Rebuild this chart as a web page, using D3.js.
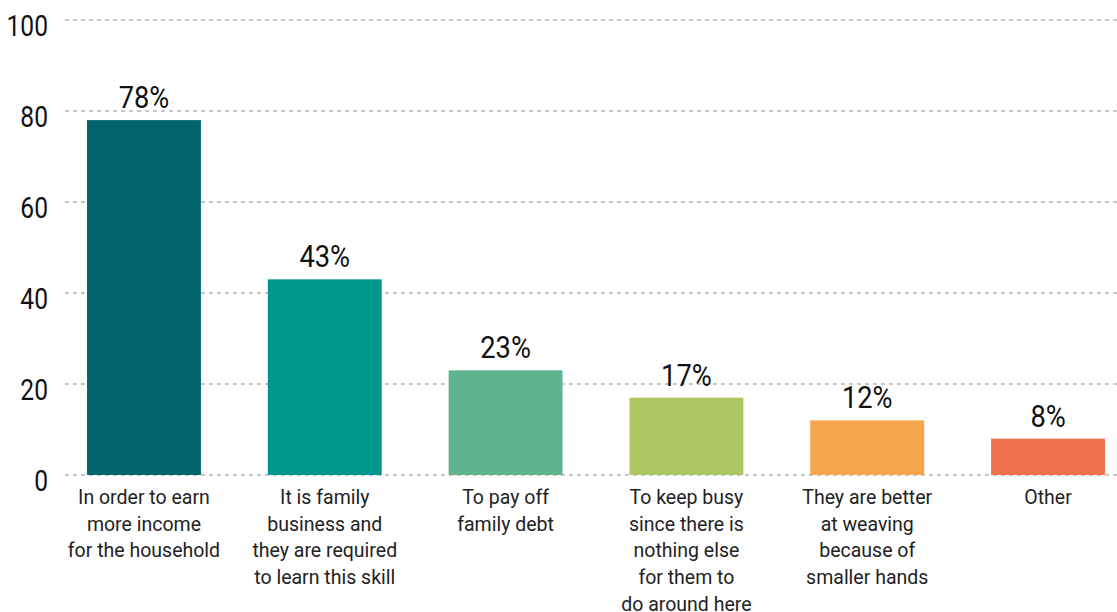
<!DOCTYPE html>
<html>
<head>
<meta charset="utf-8">
<script src="https://cdn.jsdelivr.net/npm/d3@7"></script>
<style>
  body { margin: 0; background: #fff; }
  .tick-label { font-family: Roboto, sans-serif; font-size: 30px; fill: #111; }
  .value-label { font-family: Roboto, sans-serif; font-size: 31px; fill: #111; }
  .cat-label { font-family: Roboto, sans-serif; font-size: 19.5px; fill: #222; }
</style>
</head>
<body>
<div id="chart"></div>
<script>
const categories = [
  ["In order to earn", "more income", "for the household"],
  ["It is family", "business and", "they are required", "to learn this skill"],
  ["To pay off", "family debt"],
  ["To keep busy", "since there is", "nothing else", "for them to", "do around here"],
  ["They are better", "at weaving", "because of", "smaller hands"],
  ["Other"]
];
const values = [78, 43, 23, 17, 12, 8];
const barColors = ["#02646e", "#009690", "#5fb48f", "#aec663", "#f6a54a", "#ee724e"];
const yTicks = [0, 20, 40, 60, 80, 100];

const width = 1117, height = 612;
const svg = d3.select("#chart").append("svg")
  .attr("width", width)
  .attr("height", height);

const x = d3.scaleBand()
  .domain(d3.range(values.length))
  .range([87, 1105])
  .paddingInner(0.37);

const y = d3.scaleLinear()
  .domain([0, 100])
  .range([475, 20]);

// dotted grid
svg.append("g")
  .selectAll("line")
  .data(yTicks)
  .join("line")
  .attr("x1", 65)
  .attr("x2", width)
  .attr("y1", d => y(d))
  .attr("y2", d => y(d))
  .attr("stroke", "#c8c8c8")
  .attr("stroke-width", 2)
  .attr("stroke-dasharray", "4,4");

// narrow numerals: squeeze Roboto horizontally
svg.append("g")
  .selectAll("text")
  .data(yTicks)
  .join("text")
  .attr("class", "tick-label")
  .attr("transform", d => `translate(48,${y(d) + 16}) scale(0.82,1)`)
  .attr("text-anchor", "end")
  .text(d => d);

svg.append("g")
  .selectAll("rect")
  .data(values)
  .join("rect")
  .attr("x", (d, i) => x(i))
  .attr("y", d => y(d))
  .attr("width", x.bandwidth())
  .attr("height", d => y(0) - y(d))
  .attr("fill", (d, i) => barColors[i]);

svg.append("g")
  .selectAll("text")
  .data(values)
  .join("text")
  .attr("class", "value-label")
  .attr("transform", (d, i) => `translate(${x(i) + x.bandwidth() / 2},${y(d) - 12}) scale(0.88,1)`)
  .attr("text-anchor", "middle")
  .text(d => d + "%");

const cat = svg.append("g")
  .selectAll("text")
  .data(categories)
  .join("text")
  .attr("class", "cat-label")
  .attr("text-anchor", "middle")
  .attr("x", (d, i) => x(i) + x.bandwidth() / 2)
  .attr("y", 504);

cat.selectAll("tspan")
  .data(d => d)
  .join("tspan")
  .attr("x", function () { return this.parentNode.getAttribute("x"); })
  .attr("dy", (d, i) => i === 0 ? 0 : 26.7)
  .text(d => d);
</script>
</body>
</html>
